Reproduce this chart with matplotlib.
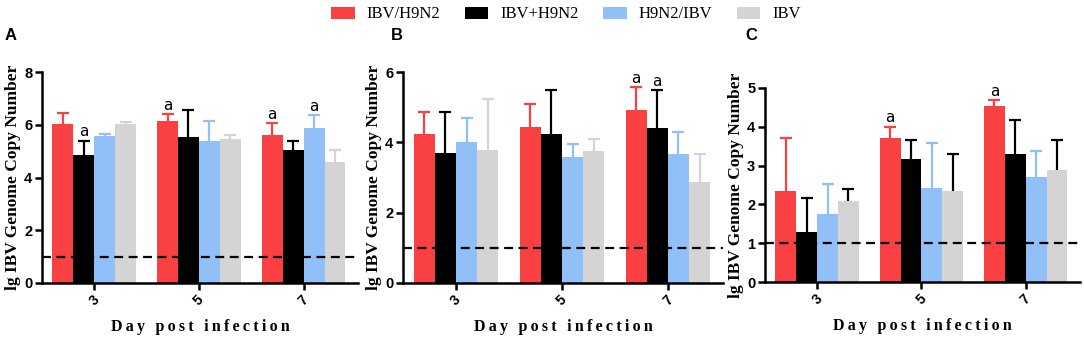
import numpy as np
import matplotlib.pyplot as plt
from matplotlib.patches import Patch

# data
days = ["3", "5", "7"]
groups = ["IBV/H9N2", "IBV+H9N2", "H9N2/IBV", "IBV"]
colors = ["#f94144", "#000000", "#91bff7", "#d4d4d4"]

# panel A
a_mean = [[6.03, 6.13, 5.63], [4.85, 5.53, 5.03], [5.58, 5.40, 5.86], [6.03, 5.47, 4.58]]
a_sd = [[0.43, 0.28, 0.43], [0.55, 1.04, 0.34], [0.07, 0.73, 0.50], [0.07, 0.16, 0.45]]
a_sig = [(1, 0), (0, 1), (0, 2), (2, 2)]  # (group, day)

# panel B
b_mean = [[4.25, 4.44, 4.91], [3.70, 4.25, 4.40], [4.02, 3.57, 3.68], [3.77, 3.75, 2.87]]
b_sd = [[0.60, 0.65, 0.66], [1.15, 1.24, 1.09], [0.67, 0.39, 0.62], [1.46, 0.34, 0.79]]
b_sig = [(0, 2), (1, 2)]

# panel C
c_mean = [[2.34, 3.72, 4.53], [1.28, 3.18, 3.31], [1.74, 2.43, 2.71], [2.10, 2.34, 2.88]]
c_sd = [[1.37, 0.28, 0.16], [0.89, 0.48, 0.87], [0.78, 1.14, 0.67], [0.29, 0.97, 0.78]]
c_sig = [(0, 1), (0, 2)]

# letter, means, sd, sig, ymax, yticks, axes box in px (l, r, bottom, top), letter x, errbar colors
panels = [
    ("A", a_mean, a_sd, a_sig, 8, [0, 2, 4, 6, 8], [42, 358, 283, 72], 5, colors),
    ("B", b_mean, b_sd, b_sig, 6, [0, 2, 4, 6], [403, 723, 283, 72], 391, colors),
    ("C", c_mean, c_sd, c_sig, 5, [0, 1, 2, 3, 4, 5], [765, 1080, 282, 88], 745,
     ["#f94144", "#000000", "#91bff7", "#000000"]),
]

W, H = 1084, 342
fig = plt.figure(figsize=(W / 100, H / 100), dpi=100)

x = np.arange(len(days))
width = 0.2
offsets = [-0.3, -0.1, 0.1, 0.3]
serif = ["Liberation Serif", "DejaVu Serif"]
xlab = "\u2009".join("Day") + "\u2009 \u2009" + "\u2009".join("post") + "\u2009 \u2009" + "\u2009".join("infection")

for letter, means, sds, sig, ymax, yticks, box, lx, ecolors in panels:
    l, r, b, t = box
    ax = fig.add_axes([l / W, 1 - b / H, (r - l) / W, (b - t) / H])
    for i in range(4):
        ax.bar(x + offsets[i], means[i], width, color=colors[i], linewidth=0, zorder=2)
        err = np.array([np.zeros(3), sds[i]])
        _, caps, _ = ax.errorbar(x + offsets[i], means[i], yerr=err, fmt="none", ecolor=ecolors[i],
                                 elinewidth=1.6, capsize=4.5, capthick=1.6, zorder=1)
        caps[0].set_visible(False)  # no cap at bar top
    for g, d in sig:
        ax.annotate("a", (x[d] + offsets[g], means[g][d] + sds[g][d]), xytext=(0, 1),
                    textcoords="offset points", ha="center", va="bottom", fontsize=11)
    ax.axhline(1, color="black", lw=1.6, ls=(0, (4, 2.5)), zorder=3)

    ax.set_xlim(-0.5, 2.52)
    ax.set_ylim(0, ymax)
    ax.set_yticks(yticks)
    ax.set_xticks(x)
    ax.set_xticklabels(days, rotation=45, fontweight="bold", fontsize=10, family="Liberation Sans")
    for lab in ax.get_yticklabels():
        lab.set_fontweight("bold")
        lab.set_family("Liberation Sans")
        lab.set_fontsize(10.5)
    ax.spines["top"].set_visible(False)
    ax.spines["right"].set_visible(False)
    ax.spines["left"].set_linewidth(1.8)
    ax.spines["bottom"].set_linewidth(1.8)
    ax.tick_params(width=1.8, length=5, pad=2)
    ax.set_ylabel("lg IBV Genome Copy Number", family=serif, fontweight="bold",
                  fontsize=12.5, labelpad=2)
    ax.set_xlabel(xlab, family=serif, fontweight="bold", fontsize=11.5, labelpad=8)
    fig.text(lx / W, 1 - 36 / H, letter, fontsize=12, fontweight="bold",
             family="Liberation Sans", va="center")

handles = [Patch(facecolor=c, edgecolor="none") for c in colors]
fig.legend(handles, groups, loc="upper center", bbox_to_anchor=(0.522, 1.025), ncol=4,
           frameon=False, prop={"family": "Liberation Serif", "size": 12},
           handlelength=1.4, handleheight=0.75, columnspacing=1.5, handletextpad=0.7)

fig.savefig("out.png", dpi=100)
